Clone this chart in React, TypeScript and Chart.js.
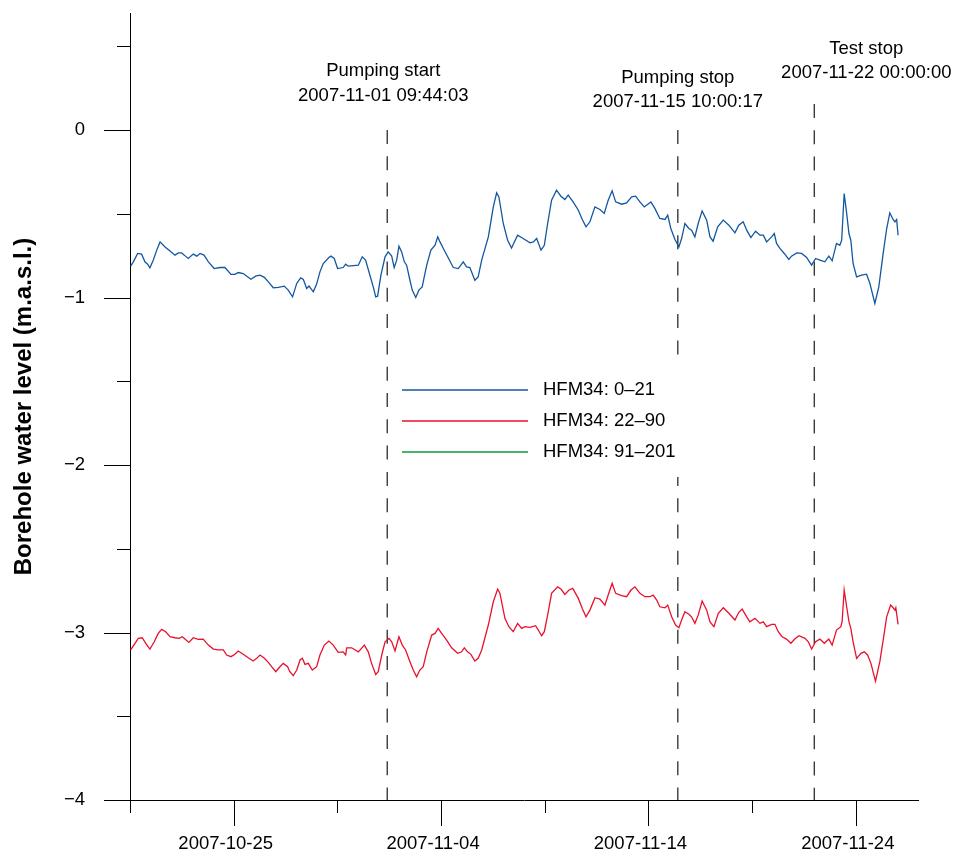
import React, { useEffect, useRef } from 'react';
import { Chart, registerables } from 'chart.js';

Chart.register(...registerables);

// ---------- data (days since 2007-10-20 00:00, levels in m.a.s.l.) ----------
const START_STAMP = '2007-10-20 00:00:00';
const END_STAMP = '2007-11-27 00:00:00';

const seriesLabels = ['HFM34: 0–21', 'HFM34: 22–90', 'HFM34: 91–201'];

const blueDays = [0.03,0.16,0.37,0.56,0.72,0.85,0.96,1.12,1.29,1.45,1.69,1.93,2.17,2.33,2.49,2.62,2.81,3.05,3.22,3.38,3.57,3.78,4.06,4.34,4.58,4.87,5.06,5.22,5.46,5.83,6.06,6.27,6.48,6.67,6.91,7.15,7.44,7.63,7.84,8.04,8.23,8.36,8.52,8.63,8.84,9.00,9.16,9.32,9.59,
9.69,9.85,10.01,10.28,10.40,10.53,11.01,11.20,11.36,11.57,11.73,11.85,11.94,12.10,12.30,12.45,12.62,12.74,12.86,12.97,13.10,13.23,13.34,13.50,13.61,13.78,13.93,14.09,14.19,14.31,14.51,14.71,14.84,14.95,15.11,15.32,15.59,15.83,16.07,16.23,16.39,16.63,16.79,16.96,17.28,17.52,17.68,17.79,18.00,18.21,18.40,18.69,18.96,
19.29,19.45,19.61,19.82,19.98,20.14,20.33,20.57,20.78,20.97,21.13,21.37,21.62,21.81,21.99,22.18,22.42,22.66,22.87,23.06,23.25,23.42,23.71,23.95,24.19,24.38,24.59,24.80,25.12,25.31,25.55,25.80,25.93,26.08,26.28,26.47,26.60,26.76,26.95,27.08,27.24,27.40,27.59,27.81,27.97,28.12,28.34,28.61,28.88,
29.17,29.36,29.57,29.74,29.94,30.17,30.38,30.54,30.70,30.94,31.07,31.18,31.34,31.55,31.77,31.90,32.15,32.39,32.63,32.87,33.06,33.27,33.51,33.70,33.86,34.07,34.23,34.32,34.44,34.56,34.67,34.76,34.87,35.04,35.28,35.52,35.68,35.92,36.11,36.32,36.49,36.64,36.80,36.89,36.97,37.04];

const blueLevels = [-0.812,-0.786,-0.736,-0.740,-0.786,-0.800,-0.822,-0.776,-0.716,-0.667,-0.697,-0.721,-0.746,-0.733,-0.733,-0.746,-0.766,-0.740,-0.752,-0.736,-0.746,-0.786,-0.826,-0.820,-0.820,-0.861,-0.861,-0.850,-0.856,-0.890,-0.872,-0.866,-0.879,-0.906,-0.941,-0.939,-0.931,-0.955,-0.995,-0.915,-0.882,-0.891,-0.945,-0.931,-0.965,-0.919,-0.846,-0.796,-0.760,
-0.752,-0.766,-0.826,-0.820,-0.800,-0.812,-0.806,-0.756,-0.776,-0.866,-0.936,-0.995,-0.991,-0.866,-0.756,-0.727,-0.752,-0.820,-0.776,-0.693,-0.727,-0.786,-0.806,-0.896,-0.955,-0.999,-0.955,-0.936,-0.876,-0.806,-0.716,-0.687,-0.637,-0.667,-0.706,-0.756,-0.820,-0.826,-0.786,-0.816,-0.820,-0.896,-0.876,-0.776,-0.637,-0.458,-0.374,-0.398,-0.557,-0.657,-0.703,-0.627,-0.647,
-0.673,-0.667,-0.647,-0.716,-0.687,-0.557,-0.418,-0.358,-0.394,-0.414,-0.388,-0.428,-0.478,-0.533,-0.577,-0.547,-0.458,-0.473,-0.497,-0.418,-0.362,-0.428,-0.442,-0.434,-0.398,-0.394,-0.428,-0.458,-0.428,-0.467,-0.527,-0.533,-0.507,-0.587,-0.653,-0.697,-0.647,-0.557,-0.587,-0.597,-0.637,-0.557,-0.482,-0.537,-0.637,-0.663,-0.577,-0.537,-0.567,
-0.613,-0.567,-0.547,-0.597,-0.641,-0.603,-0.627,-0.627,-0.667,-0.637,-0.617,-0.676,-0.706,-0.736,-0.772,-0.752,-0.733,-0.736,-0.760,-0.806,-0.766,-0.776,-0.786,-0.752,-0.780,-0.676,-0.687,-0.657,-0.378,-0.497,-0.617,-0.657,-0.796,-0.876,-0.866,-0.860,-0.915,-1.035,-0.936,-0.736,-0.587,-0.494,-0.533,-0.547,-0.533,-0.627];

const redDays = [0.03,0.24,0.40,0.59,0.76,0.96,1.17,1.36,1.53,1.72,1.93,2.17,2.36,2.52,2.65,2.84,3.05,3.29,3.53,3.78,4.02,4.26,4.50,4.66,4.87,5.06,5.22,5.46,5.70,5.94,6.11,6.27,6.48,6.67,6.83,7.03,7.23,7.39,7.60,7.71,7.87,8.04,8.20,8.31,8.44,8.60,8.79,9.00,9.16,9.37,
9.59,9.80,10.04,10.28,10.40,10.45,10.69,11.01,11.30,11.49,11.65,11.85,11.97,12.14,12.30,12.49,12.62,12.78,12.97,13.13,13.29,13.50,13.66,13.82,13.98,14.14,14.31,14.55,14.71,14.86,15.03,15.27,15.51,15.80,15.99,16.12,16.28,16.44,16.63,16.79,16.96,17.28,17.52,17.73,17.84,18.08,18.27,18.48,18.69,18.89,
19.05,19.29,19.56,19.69,19.85,19.98,20.14,20.33,20.62,20.78,20.97,21.17,21.35,21.62,21.81,21.99,22.18,22.42,22.66,22.90,23.06,23.25,23.42,23.71,23.95,24.16,24.35,24.59,24.83,25.07,25.23,25.40,25.55,25.80,25.93,26.12,26.31,26.47,26.60,26.76,26.95,27.08,27.24,27.40,27.59,27.81,27.97,28.16,28.37,28.61,
28.88,29.17,29.36,29.52,29.69,29.89,30.14,30.38,30.54,30.70,30.94,31.10,31.26,31.45,31.66,31.87,32.06,32.26,32.55,32.71,32.87,33.06,33.27,33.48,33.70,33.86,34.07,34.28,34.34,34.44,34.56,34.67,34.76,34.87,35.04,35.25,35.41,35.57,35.73,35.95,36.16,36.32,36.49,36.68,36.80,36.89,36.93,37.04];

const redLevels = [-3.104,-3.065,-3.035,-3.031,-3.065,-3.099,-3.055,-3.005,-2.981,-2.995,-3.025,-3.031,-3.035,-3.025,-3.039,-3.059,-3.031,-3.041,-3.039,-3.075,-3.099,-3.104,-3.104,-3.134,-3.144,-3.130,-3.110,-3.130,-3.150,-3.170,-3.154,-3.134,-3.154,-3.178,-3.204,-3.234,-3.204,-3.184,-3.204,-3.234,-3.258,-3.224,-3.164,-3.154,-3.190,-3.184,-3.224,-3.204,-3.134,-3.075,
-3.051,-3.075,-3.118,-3.115,-3.134,-3.091,-3.091,-3.115,-3.075,-3.115,-3.184,-3.250,-3.234,-3.134,-3.055,-3.035,-3.055,-3.110,-3.025,-3.075,-3.104,-3.174,-3.224,-3.264,-3.224,-3.204,-3.115,-3.015,-3.005,-2.975,-3.005,-3.045,-3.091,-3.124,-3.115,-3.091,-3.115,-3.130,-3.170,-3.154,-3.104,-2.955,-2.816,-2.740,-2.766,-2.915,-2.965,-2.995,-2.945,-2.975,
-2.965,-2.969,-2.959,-2.985,-3.019,-2.995,-2.896,-2.766,-2.727,-2.740,-2.772,-2.746,-2.736,-2.796,-2.856,-2.906,-2.866,-2.792,-2.800,-2.836,-2.776,-2.706,-2.766,-2.780,-2.786,-2.746,-2.727,-2.766,-2.786,-2.786,-2.776,-2.806,-2.846,-2.852,-2.836,-2.906,-2.955,-2.971,-2.925,-2.876,-2.891,-2.906,-2.945,-2.896,-2.812,-2.866,-2.936,-2.965,-2.885,-2.852,
-2.885,-2.925,-2.879,-2.860,-2.896,-2.936,-2.915,-2.945,-2.936,-2.965,-2.951,-2.951,-2.995,-3.025,-3.039,-3.064,-3.039,-3.019,-3.035,-3.055,-3.099,-3.055,-3.039,-3.064,-3.039,-3.075,-2.985,-2.965,-2.935,-2.746,-2.846,-2.935,-2.975,-3.055,-3.154,-3.124,-3.115,-3.134,-3.184,-3.290,-3.174,-3.045,-2.906,-2.836,-2.852,-2.866,-2.852,-2.951];

const greenDays: number[] = [];
const greenLevels: number[] = [];

const eventLabels = ['Pumping start', 'Pumping stop', 'Test stop'];
const eventStamps = ['2007-11-01 09:44:03', '2007-11-15 10:00:17', '2007-11-22 00:00:00'];

const xTickLabels = ['2007-10-25', '2007-11-04', '2007-11-14', '2007-11-24'];
const xMinorStepDays = 5;
const yTickValues = [-4, -3, -2, -1, 0];
const yTickLabels = ['−4', '−3', '−2', '−1', '0'];
const yMinorStep = 0.5;
const Y_MIN = -4;
const Y_MAX = 0.7;
const Y_TITLE = 'Borehole water level (m.a.s.l.)';

// ---------- styling ----------
const FONT = '"Liberation Sans", Arial, Helvetica, sans-serif';
const seriesColors = ['#13579f', '#e8112d', '#0a9a3c'];
const TEXT_SIZE = 18.5;

function dayOffset(stamp: string): number {
  const [d, t = '00:00:00'] = stamp.split(' ');
  const [Y, M, D] = d.split('-').map(Number);
  const [h, m, s] = t.split(':').map(Number);
  const [Y0, M0, D0] = START_STAMP.split(' ')[0].split('-').map(Number);
  return (Date.UTC(Y, M - 1, D, h, m, s) - Date.UTC(Y0, M0 - 1, D0)) / 86400000;
}

const xTickDays = xTickLabels.map((l) => dayOffset(l));
const X_MAX = dayOffset(END_STAMP);

// layout (pixels)
const eventLayout = [
  { title: 71, stamp: 96, lineTop: 130, dx: -4 },
  { title: 78, stamp: 102, lineTop: 130, dx: 0 },
  { title: 49, stamp: 73, lineTop: 104, dx: 52 },
];
const legendLayout = { boxLeft: 393, boxTop: 366, boxRight: 686, boxBottom: 477, lineX0: 402, lineX1: 528, textX: 543, rowY: [390, 421, 452] };

const overlayPlugin = {
  id: 'overlay',
  beforeDatasetsDraw(chart: any) {
    const { ctx, scales } = chart;
    const x = scales.x;
    const area = chart.chartArea;
    ctx.save();
    ctx.strokeStyle = '#3a3a3a';
    ctx.lineWidth = 1.4;
    ctx.setLineDash([14, 12.3]);
    eventStamps.forEach((st, i) => {
      const px = x.getPixelForValue(dayOffset(st));
      ctx.beginPath();
      ctx.moveTo(px, eventLayout[i].lineTop);
      ctx.lineTo(px, area.bottom);
      ctx.stroke();
    });
    ctx.restore();
  },
  afterDatasetsDraw(chart: any) {
    const { ctx, scales } = chart;
    const x = scales.x;
    ctx.save();
    // event annotations
    ctx.fillStyle = '#000';
    ctx.font = `${TEXT_SIZE}px ${FONT}`;
    ctx.textAlign = 'center';
    ctx.textBaseline = 'middle';
    eventStamps.forEach((st, i) => {
      const cx = x.getPixelForValue(dayOffset(st)) + eventLayout[i].dx;
      ctx.fillText(eventLabels[i], cx, eventLayout[i].title);
      ctx.fillText(st, cx, eventLayout[i].stamp);
    });
    // legend
    const L = legendLayout;
    ctx.fillStyle = '#fff';
    ctx.fillRect(L.boxLeft, L.boxTop, L.boxRight - L.boxLeft, L.boxBottom - L.boxTop);
    chart.data.datasets.forEach((ds: any, i: number) => {
      const y = L.rowY[i];
      ctx.strokeStyle = ds.borderColor;
      ctx.lineWidth = 1.5;
      ctx.beginPath();
      ctx.moveTo(L.lineX0, y);
      ctx.lineTo(L.lineX1, y);
      ctx.stroke();
      ctx.fillStyle = '#000';
      ctx.textAlign = 'left';
      ctx.fillText(ds.label, L.textX, y);
    });
    ctx.restore();
  },
  afterDraw(chart: any) {
    const { ctx, scales } = chart;
    const x = scales.x;
    const y = scales.y;
    const area = chart.chartArea;
    ctx.save();
    ctx.strokeStyle = '#000';
    ctx.lineWidth = 1;
    for (let d = 0; d <= X_MAX + 1e-9; d += xMinorStepDays) {
      const major = xTickDays.some((t) => Math.abs(t - d) < 1e-6);
      const px = Math.round(x.getPixelForValue(d)) + 0.5;
      ctx.beginPath();
      ctx.moveTo(px, area.bottom);
      ctx.lineTo(px, area.bottom + (major ? 26 : 13));
      ctx.stroke();
    }
    for (let v = Y_MIN; v <= Y_MAX + 1e-9; v += yMinorStep) {
      const major = yTickValues.some((t) => Math.abs(t - v) < 1e-6);
      const py = Math.round(y.getPixelForValue(v)) + 0.5;
      ctx.beginPath();
      ctx.moveTo(area.left, py);
      ctx.lineTo(area.left - (major ? 26 : 13), py);
      ctx.stroke();
    }
    ctx.restore();
  },
};

export default function App() {
  const ref = useRef<HTMLCanvasElement>(null);
  useEffect(() => {
    const toPts = (d: number[], v: number[]) => d.map((dd, i) => ({ x: dd, y: v[i] }));
    const chart = new Chart(ref.current as HTMLCanvasElement, {
      type: 'line',
      data: {
        datasets: [
          { label: seriesLabels[0], data: toPts(blueDays, blueLevels), borderColor: seriesColors[0], borderWidth: 1.3, pointRadius: 0, tension: 0, fill: false },
          { label: seriesLabels[1], data: toPts(redDays, redLevels), borderColor: seriesColors[1], borderWidth: 1.3, pointRadius: 0, tension: 0, fill: false },
          { label: seriesLabels[2], data: toPts(greenDays, greenLevels), borderColor: seriesColors[2], borderWidth: 1.3, pointRadius: 0, tension: 0, fill: false },
        ],
      },
      options: {
        responsive: false,
        animation: false,
        devicePixelRatio: 1,
        layout: { autoPadding: false, padding: { left: 0, top: 13, right: 39, bottom: 0 } },
        plugins: { legend: { display: false }, tooltip: { enabled: false } },
        scales: {
          x: {
            type: 'linear',
            position: 'bottom',
            min: 0,
            max: X_MAX,
            afterFit: (s: any) => { s.height = 52; s.paddingLeft = 0; s.paddingRight = 0; s.paddingTop = 0; s.paddingBottom = 0; },
            afterBuildTicks: (s: any) => { s.ticks = xTickDays.map((v) => ({ value: v })); },
            grid: { display: false, drawTicks: false },
            border: { display: true, color: '#000', width: 1 },
            ticks: {
              autoSkip: false,
              maxRotation: 0,
              padding: 33,
              labelOffset: -8,
              color: '#000',
              font: { family: FONT, size: TEXT_SIZE },
              callback: (_v: any, i: number) => xTickLabels[i],
            },
          },
          y: {
            type: 'linear',
            min: Y_MIN,
            max: Y_MAX,
            afterFit: (s: any) => { s.width = 130; s.paddingTop = 0; s.paddingBottom = 0; s.paddingLeft = 0; s.paddingRight = 0; },
            afterBuildTicks: (s: any) => { s.ticks = yTickValues.map((v) => ({ value: v })); },
            grid: { display: false, drawTicks: false },
            border: { display: true, color: '#000', width: 1 },
            ticks: {
              autoSkip: false,
              padding: 45,
              color: '#000',
              font: { family: FONT, size: TEXT_SIZE },
              callback: (_v: any, i: number) => yTickLabels[i],
            },
            title: {
              display: true,
              text: Y_TITLE,
              color: '#000',
              font: { family: FONT, size: 24, weight: 'bold' },
              padding: { top: 10, bottom: 0 },
            },
          },
        },
      } as any,
      plugins: [overlayPlugin],
    });
    return () => chart.destroy();
  }, []);
  return (
    <div style={{ position: 'absolute', left: 0, top: 0, width: 957, height: 852, background: '#fff' }}>
      <canvas ref={ref} width={957} height={852} style={{ display: 'block', width: 957, height: 852 }} />
    </div>
  );
}
